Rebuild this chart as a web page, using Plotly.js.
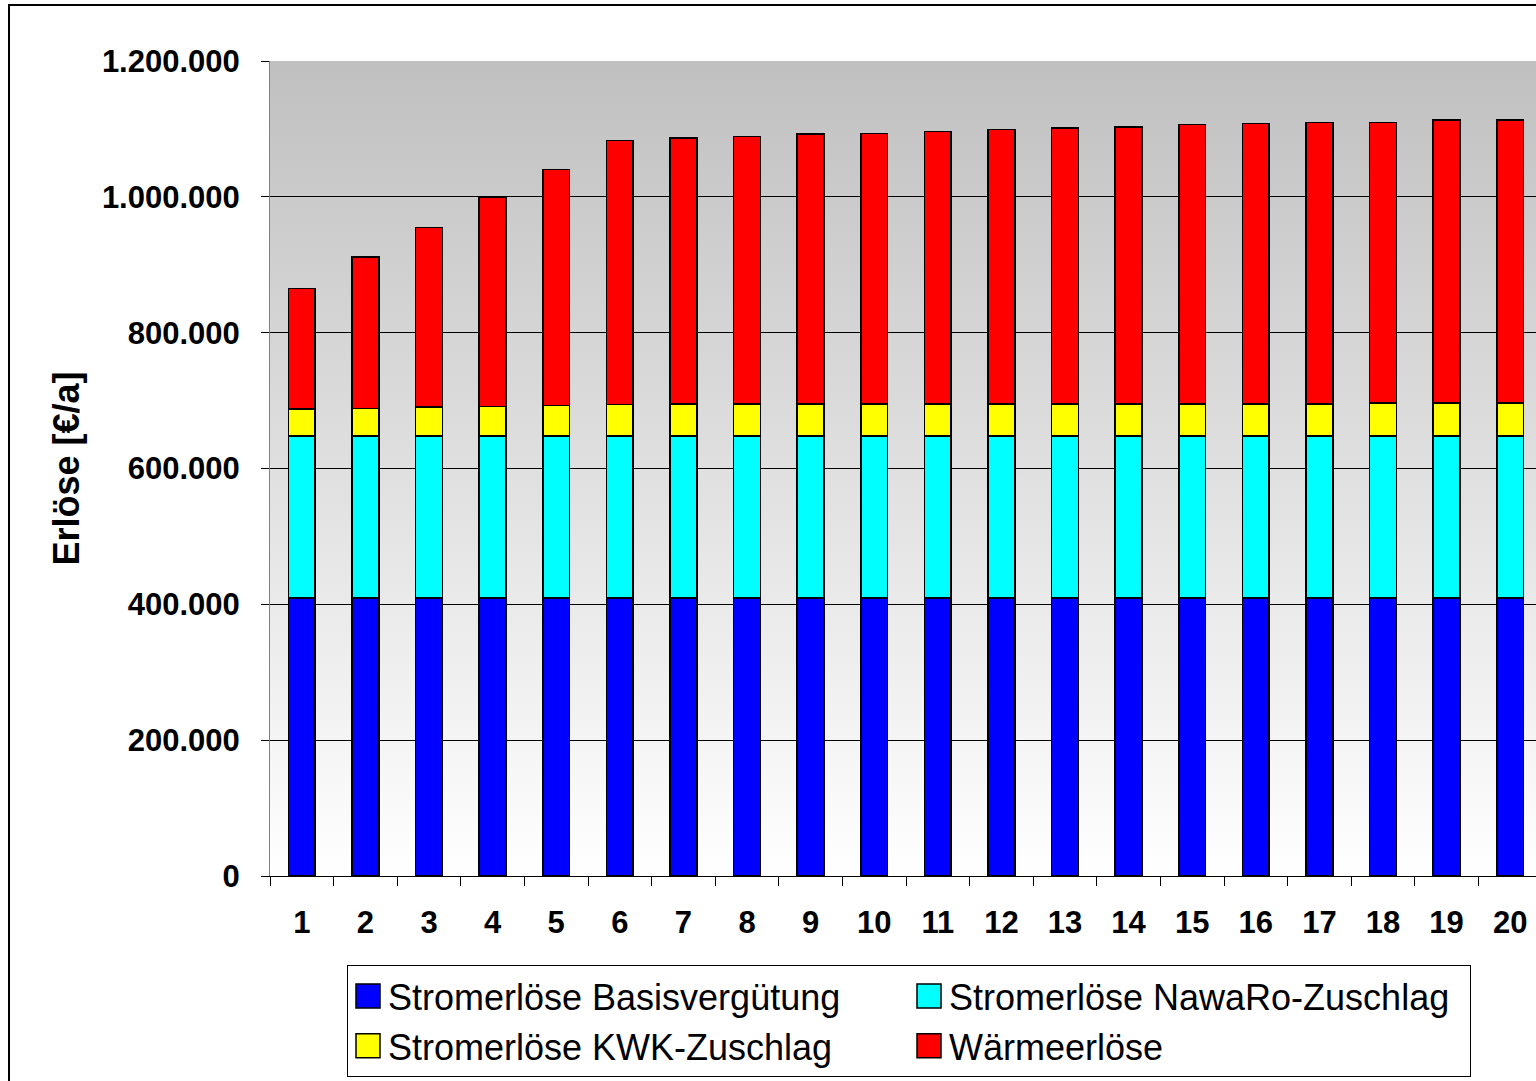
<!DOCTYPE html>
<html>
<head>
<meta charset="utf-8">
<script src="https://cdn.plot.ly/plotly-3.0.1.min.js"></script>
<style>
html,body{margin:0;padding:0;overflow:hidden;background:#fff;width:1536px;height:1081px;}
#chart{position:absolute;left:0;top:0;width:1560px;height:1081px;}
#frame{position:absolute;left:8px;top:4px;width:1600px;height:1200px;border:2px solid #000;pointer-events:none;}
</style>
</head>
<body>
<div id="chart"></div>
<div id="frame"></div>
<script>
const years = ['1','2','3','4','5','6','7','8','9','10','11','12','13','14','15','16','17','18','19','20'];
const basis = [409000,409000,409000,409000,409000,409000,409000,409000,409000,409000,409000,409000,409000,409000,409000,409000,409000,409000,409000,409000];
const nawaro = [239000,239000,239000,239000,239000,239000,239000,239000,239000,239000,239000,239000,239000,239000,239000,239000,239000,239000,239000,239000];
const kwk = [39300,40700,42200,43100,44600,46100,47100,47100,47100,47100,47100,47100,47100,47100,47100,47100,47100,48100,48100,48100];
const waerme = [178100,222800,265000,308300,348000,389200,391600,394100,397100,398500,400900,404400,406400,407400,411200,412700,414200,413700,416700,417100];
const seriesNames = ['Stromerlöse Basisvergütung','Stromerlöse NawaRo-Zuschlag','Stromerlöse KWK-Zuschlag','Wärmeerlöse'];
const seriesColors = ['#0000FF','#00FFFF','#FFFF00','#FF0000'];
const yTitle = 'Erlöse [€/a]';

const values = [basis, nawaro, kwk, waerme];
const traces = values.map((v,i)=>({
  type:'bar', x:years, y:v, name:seriesNames[i],
  marker:{color:seriesColors[i], line:{color:'#000', width:1.5}},
  hoverinfo:'skip'
}));

const grad = '<svg xmlns="http://www.w3.org/2000/svg" width="100" height="100" preserveAspectRatio="none"><defs><linearGradient id="g" x1="0" y1="0" x2="0" y2="1"><stop offset="0" stop-color="#c0c0c0"/><stop offset="1" stop-color="#ffffff"/></linearGradient></defs><rect width="100" height="100" fill="url(#g)"/></svg>';

const F = 'Arial, "Liberation Sans", sans-serif';
const layout = {
  width:1560, height:1081,
  margin:{l:270, r:18, t:61, b:205, autoexpand:false},
  paper_bgcolor:'#fff', plot_bgcolor:'rgba(0,0,0,0)',
  barmode:'stack', bargap:0.58,
  separators:',.',
  showlegend:true,
  font:{family:F, color:'#000'},
  images:[{source:'data:image/svg+xml;charset=utf-8,'+encodeURIComponent(grad),
    xref:'x domain', yref:'y domain', x:0, y:1, sizex:1, sizey:1,
    xanchor:'left', yanchor:'top', sizing:'stretch', layer:'below'}],
  xaxis:{type:'category', showline:true, linecolor:'#000', linewidth:1,
    ticks:'outside', tickson:'boundaries', ticklen:9, tickcolor:'#000', tickwidth:1,
    showgrid:false, zeroline:false, automargin:false,
    tickfont:{family:F, size:31, weight:'bold', color:'#000'}, ticklabelstandoff:19},
  yaxis:{range:[0,1200000], dtick:200000, tickformat:',d', automargin:false,
    showline:true, linecolor:'#808080', linewidth:1,
    ticks:'outside', ticklen:8, tickcolor:'#000', tickwidth:1,
    showgrid:true, gridcolor:'#000', gridwidth:1, zeroline:false,
    tickfont:{family:F, size:31, weight:'bold', color:'#000'}, ticklabelstandoff:15,
    title:{text:yTitle, font:{family:F, size:36, weight:'bold', color:'#000'}, standoff:11}},
  legend:{orientation:'h', traceorder:'normal', x:(347-270)/1272, xanchor:'left',
    y:(876-965)/815, yanchor:'top', xref:'paper', yref:'paper',
    bordercolor:'#000', borderwidth:1, bgcolor:'#fff',
    entrywidth:516, entrywidthmode:'pixels',
    font:{family:F, size:36, color:'#000'}}
};

Plotly.newPlot('chart', traces, layout, {displayModeBar:false, staticPlot:true}).then(gd=>{
  gd.querySelectorAll('.legendpoints path').forEach(p=>{
    p.setAttribute('d','M12,12H-12V-12H12Z');
  });
});
</script>
</body>
</html>
